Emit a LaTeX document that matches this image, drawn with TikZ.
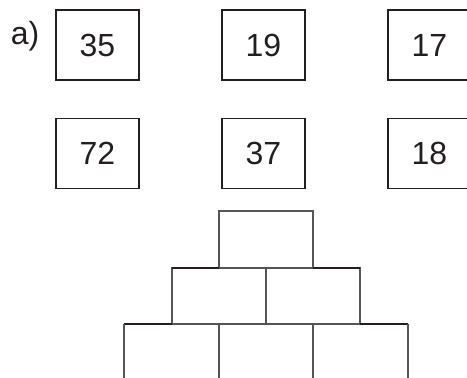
\documentclass[tikz,border=0pt]{standalone}
\usepackage{fontspec}
\setmainfont{Liberation Sans}
\usepackage{xcolor}
\usepackage{tikz}
\usetikzlibrary{positioning}
\definecolor{cBox}{RGB}{35,31,32}
\definecolor{cGrid}{RGB}{85,85,85}
\tikzset{
	numbox/.style ={rectangle, draw=cBox, line width=1.6pt, minimum width=83pt, minimum height=70pt, inner sep=0pt, text=cBox},
	cell/.style   ={draw=cGrid, line width=1.3pt},
	edge/.style   ={draw=cBox, line width=1.3pt},
}

\begin{document}
\begin{tikzpicture}[x=1pt, y=-1pt, font=\fontsize{32}{36}\selectfont]
	\useasboundingbox (0,0) rectangle (467,378);
	\node[text=cBox] (lbl) at (25,36) {a)};
	% first row
	\node[numbox] (b1) at (97.5,45) {35};
	\node[numbox] (b2) at (263.5,45) {19};
	\node[numbox] (b3) at (429.5,45) {17};
	% second row
	\node[numbox] (b4) at (97.5,153.5) {72};
	\node[numbox] (b5) at (263.5,153.5) {37};
	\node[numbox] (b6) at (429.5,153.5) {18};
	% pyramid
	\draw[cell] (219,211) rectangle (313,268);
	\draw[cell] (172,268) rectangle (266,324);
	\draw[cell] (266,268) rectangle (360,324);
	\draw[edge] (172,268) -- (219,268);
	\draw[edge] (313,268) -- (360,268);
	\draw[edge] (124,324) -- (172,324);
	\draw[edge] (360,324) -- (408,324);
	\foreach \x in {124,219,313,408}
		\draw[cell] (\x,324) -- (\x,378);
\end{tikzpicture}
\end{document}
